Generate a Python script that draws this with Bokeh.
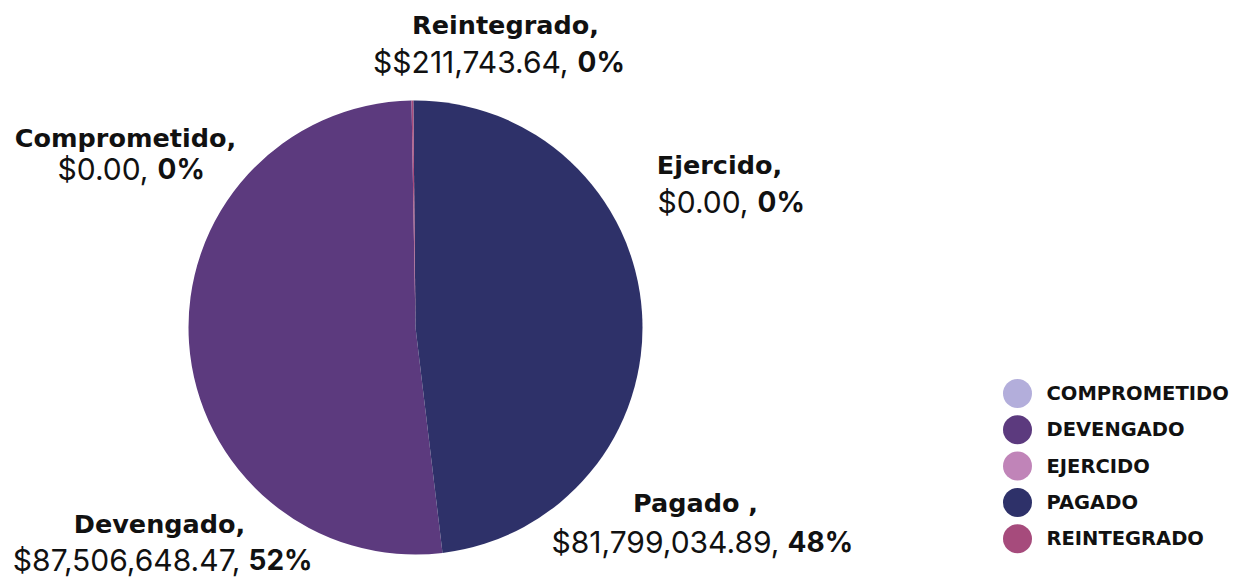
import math
from bokeh.plotting import figure
from bokeh.models import Range1d, ColumnDataSource
from bokeh.core.properties import value
from bokeh.embed import file_html
from bokeh.resources import INLINE

# ---- data ----
categories = ["Comprometido", "Devengado", "Ejercido", "Pagado", "Reintegrado"]
amounts = [0.00, 87506648.47, 0.00, 81799034.89, 211743.64]
amount_labels = ["$0.00", "$87,506,648.47", "$0.00", "$81,799,034.89", "$$211,743.64"]
pct_labels = ["0%", "52%", "0%", "48%", "0%"]
name_labels = ["Comprometido,", "Devengado,", "Ejercido,", "Pagado ,", "Reintegrado,"]
legend_labels = ["COMPROMETIDO", "DEVENGADO", "EJERCIDO", "PAGADO", "REINTEGRADO"]
colors = ["#b3aedb", "#5c3a7e", "#c084b8", "#2e3169", "#a64b7c"]

# ---- layout ----
W, H = 1242, 579
BOLD = "DejaVu Sans"
REG = "Inter"
cx, cy, R = 415, 327, 227
start_deg = 91.0

p = figure(width=W, height=H, output_backend="svg", toolbar_location=None,
           x_range=Range1d(0, W), y_range=Range1d(-H, 0),
           min_border=0, min_border_left=0, min_border_right=0,
           min_border_top=0, min_border_bottom=0)
p.axis.visible = False
p.grid.visible = False
p.outline_line_color = None
p.background_fill_color = "white"
p.border_fill_color = "white"

total = sum(amounts)
starts, ends, wcol = [], [], []
acc = math.radians(start_deg)
for a, col in zip(amounts, colors):
    s = acc
    acc += a / total * 2 * math.pi
    if a > 0:  # zero-size slices are not drawn (they would render as full discs)
        starts.append(s)
        ends.append(acc)
        wcol.append(col)

pie = ColumnDataSource(dict(start=starts, end=ends, color=wcol))
p.wedge(x=cx, y=-cy, radius=R, start_angle="start", end_angle="end",
        direction="anticlock", fill_color="color", line_color=None, source=pie)

# ---- slice labels ----
# per category: (center x line 1, mid y line 1, mid y line 2, end x of amount, start x of percent)
label_pos = {
    "Comprometido": (125, 137, 168, 148, 157),
    "Devengado": (159, 523, 559, 240, 248),
    "Ejercido": (719, 164, 201, 748, 757),
    "Pagado": (695, 502, 541, 779, 787),
    "Reintegrado": (505, 24, 61, 568, 577),
}
l1x, l1y, l2y, sx, sxb = [], [], [], [], []
for c in categories:
    a, b, d, s, t = label_pos[c]
    l1x.append(a); l1y.append(-b); l2y.append(-d); sx.append(s); sxb.append(t)

lab = ColumnDataSource(dict(l1x=l1x, l1y=l1y, l2y=l2y, sx=sx, sxb=sxb,
                            name=name_labels,
                            amt=[t + "," for t in amount_labels],
                            pct=pct_labels))
p.text(x="l1x", y="l1y", text="name", source=lab, text_font=value(BOLD),
       text_font_style="bold", text_font_size="25.5px", text_align="center",
       text_baseline="middle", text_color="#111111")
p.text(x="sx", y="l2y", text="amt", source=lab, text_font=value(REG),
       text_font_size="30px", text_align="right",
       text_baseline="middle", text_color="#111111")
p.text(x="sxb", y="l2y", text="pct", source=lab, text_font=value(REG),
       text_font_style="bold", text_font_size="28px", text_align="left",
       text_baseline="middle", text_color="#111111")

# ---- legend ----
leg_x, leg_y0, leg_dy = 1017, 393, 36.3
leg = ColumnDataSource(dict(
    x=[leg_x] * len(categories),
    y=[-(leg_y0 + i * leg_dy) for i in range(len(categories))],
    tx=[leg_x + 29] * len(categories),
    color=colors, label=legend_labels))
p.scatter(x="x", y="y", size=29, marker="circle", fill_color="color",
          line_color=None, source=leg)
p.text(x="tx", y="y", text="label", source=leg, text_font=value(BOLD),
       text_font_style="bold", text_font_size="19.5px", text_align="left",
       text_baseline="middle", text_color="#111111")

open("out.html", "w").write(file_html(p, INLINE))
